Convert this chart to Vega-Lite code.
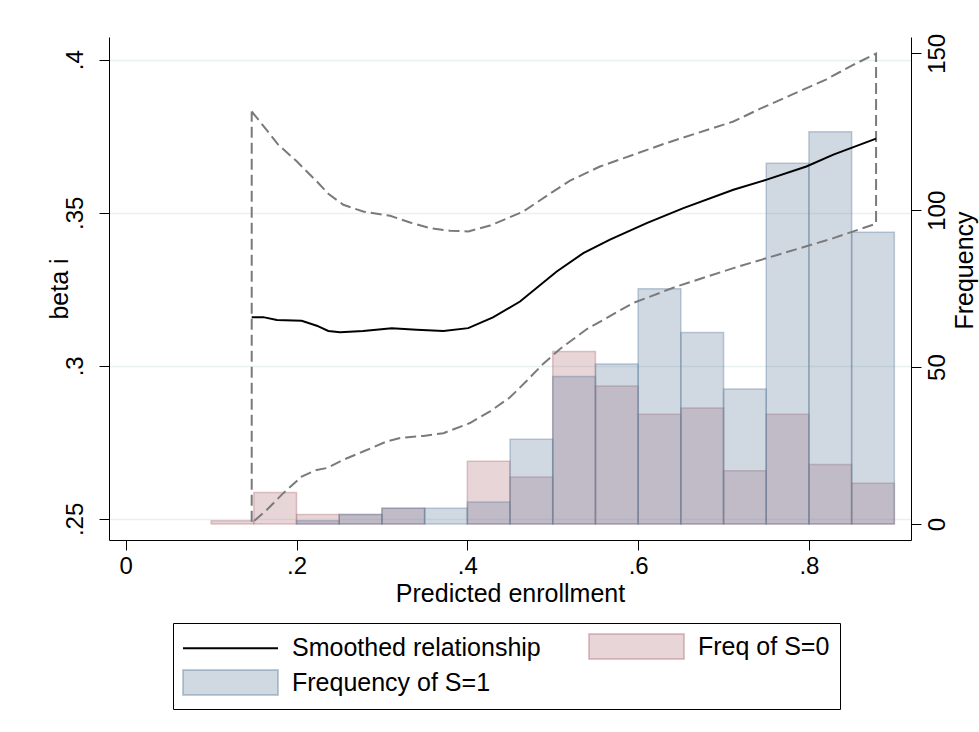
{
  "$schema": "https://vega.github.io/schema/vega-lite/v6.json",
  "width": 802,
  "height": 503,
  "autosize": {"type": "none"},
  "padding": {"left": 109, "top": 37, "right": 68, "bottom": 192},
  "background": "white",
  "config": {
    "view": {"stroke": null},
    "font": "Liberation Sans",
    "axis": {
      "domainColor": "black",
      "domainWidth": 1,
      "tickColor": "black",
      "tickWidth": 1,
      "tickSize": 10,
      "labelFont": "Liberation Sans",
      "labelFontSize": 24,
      "labelColor": "black",
      "labelFlush": false,
      "labelOverlap": false,
      "titleFont": "Liberation Sans",
      "titleFontSize": 25,
      "titleFontWeight": "normal",
      "titleColor": "black"
    }
  },
  "datasets": {
    "bars": [
      {"x0": 0.10, "x1": 0.15, "n": 1, "g": "Freq of S=0"},
      {"x0": 0.15, "x1": 0.20, "n": 10, "g": "Freq of S=0"},
      {"x0": 0.20, "x1": 0.25, "n": 3, "g": "Freq of S=0"},
      {"x0": 0.25, "x1": 0.30, "n": 3, "g": "Freq of S=0"},
      {"x0": 0.30, "x1": 0.35, "n": 5, "g": "Freq of S=0"},
      {"x0": 0.40, "x1": 0.45, "n": 20, "g": "Freq of S=0"},
      {"x0": 0.45, "x1": 0.50, "n": 15, "g": "Freq of S=0"},
      {"x0": 0.50, "x1": 0.55, "n": 55, "g": "Freq of S=0"},
      {"x0": 0.55, "x1": 0.60, "n": 44, "g": "Freq of S=0"},
      {"x0": 0.60, "x1": 0.65, "n": 35, "g": "Freq of S=0"},
      {"x0": 0.65, "x1": 0.70, "n": 37, "g": "Freq of S=0"},
      {"x0": 0.70, "x1": 0.75, "n": 17, "g": "Freq of S=0"},
      {"x0": 0.75, "x1": 0.80, "n": 35, "g": "Freq of S=0"},
      {"x0": 0.80, "x1": 0.85, "n": 19, "g": "Freq of S=0"},
      {"x0": 0.85, "x1": 0.90, "n": 13, "g": "Freq of S=0"},
      {"x0": 0.20, "x1": 0.25, "n": 1, "g": "Frequency of S=1"},
      {"x0": 0.25, "x1": 0.30, "n": 3, "g": "Frequency of S=1"},
      {"x0": 0.30, "x1": 0.35, "n": 5, "g": "Frequency of S=1"},
      {"x0": 0.35, "x1": 0.40, "n": 5, "g": "Frequency of S=1"},
      {"x0": 0.40, "x1": 0.45, "n": 7, "g": "Frequency of S=1"},
      {"x0": 0.45, "x1": 0.50, "n": 27, "g": "Frequency of S=1"},
      {"x0": 0.50, "x1": 0.55, "n": 47, "g": "Frequency of S=1"},
      {"x0": 0.55, "x1": 0.60, "n": 51, "g": "Frequency of S=1"},
      {"x0": 0.60, "x1": 0.65, "n": 75, "g": "Frequency of S=1"},
      {"x0": 0.65, "x1": 0.70, "n": 61, "g": "Frequency of S=1"},
      {"x0": 0.70, "x1": 0.75, "n": 43, "g": "Frequency of S=1"},
      {"x0": 0.75, "x1": 0.80, "n": 115, "g": "Frequency of S=1"},
      {"x0": 0.80, "x1": 0.85, "n": 125, "g": "Frequency of S=1"},
      {"x0": 0.85, "x1": 0.90, "n": 93, "g": "Frequency of S=1"}
    ],
    "ci": [
      {"o": 1, "x": 0.1475, "y": 0.3831},
      {"o": 2, "x": 0.1787, "y": 0.3722},
      {"o": 3, "x": 0.2002, "y": 0.3668},
      {"o": 4, "x": 0.2255, "y": 0.3597},
      {"o": 5, "x": 0.2372, "y": 0.3562},
      {"o": 6, "x": 0.2548, "y": 0.3526},
      {"o": 7, "x": 0.2780, "y": 0.3504},
      {"o": 8, "x": 0.3095, "y": 0.3490},
      {"o": 9, "x": 0.3330, "y": 0.3468},
      {"o": 10, "x": 0.3563, "y": 0.3450},
      {"o": 11, "x": 0.3797, "y": 0.3441},
      {"o": 12, "x": 0.4012, "y": 0.3439},
      {"o": 13, "x": 0.4266, "y": 0.3458},
      {"o": 14, "x": 0.4656, "y": 0.3504},
      {"o": 15, "x": 0.4965, "y": 0.3562},
      {"o": 16, "x": 0.5203, "y": 0.3605},
      {"o": 17, "x": 0.5553, "y": 0.3651},
      {"o": 18, "x": 0.6335, "y": 0.3728},
      {"o": 19, "x": 0.7115, "y": 0.3798},
      {"o": 20, "x": 0.7430, "y": 0.3840},
      {"o": 21, "x": 0.7820, "y": 0.3888},
      {"o": 22, "x": 0.8199, "y": 0.3935},
      {"o": 23, "x": 0.8512, "y": 0.3982},
      {"o": 24, "x": 0.8786, "y": 0.4020},
      {"o": 25, "x": 0.8786, "y": 0.3464},
      {"o": 26, "x": 0.8286, "y": 0.3417},
      {"o": 27, "x": 0.7700, "y": 0.3368},
      {"o": 28, "x": 0.7115, "y": 0.3319},
      {"o": 29, "x": 0.6450, "y": 0.3259},
      {"o": 30, "x": 0.5940, "y": 0.3205},
      {"o": 31, "x": 0.5400, "y": 0.3120},
      {"o": 32, "x": 0.5085, "y": 0.3055},
      {"o": 33, "x": 0.4890, "y": 0.3007},
      {"o": 34, "x": 0.4696, "y": 0.2951},
      {"o": 35, "x": 0.4500, "y": 0.2897},
      {"o": 36, "x": 0.4266, "y": 0.2851},
      {"o": 37, "x": 0.4030, "y": 0.2813},
      {"o": 38, "x": 0.3720, "y": 0.2780},
      {"o": 39, "x": 0.3485, "y": 0.2771},
      {"o": 40, "x": 0.3212, "y": 0.2764},
      {"o": 41, "x": 0.3056, "y": 0.2753},
      {"o": 42, "x": 0.2780, "y": 0.2720},
      {"o": 43, "x": 0.2548, "y": 0.2693},
      {"o": 44, "x": 0.2354, "y": 0.2666},
      {"o": 45, "x": 0.2237, "y": 0.2660},
      {"o": 46, "x": 0.2060, "y": 0.2638},
      {"o": 47, "x": 0.1845, "y": 0.2584},
      {"o": 48, "x": 0.1650, "y": 0.2529},
      {"o": 49, "x": 0.1475, "y": 0.2486},
      {"o": 50, "x": 0.1475, "y": 0.3831}
    ],
    "smooth": [
      {"x": 0.1475, "y": 0.3159},
      {"x": 0.1610, "y": 0.3159},
      {"x": 0.1770, "y": 0.3150},
      {"x": 0.2060, "y": 0.3147},
      {"x": 0.2237, "y": 0.3131},
      {"x": 0.2372, "y": 0.3114},
      {"x": 0.2510, "y": 0.3110},
      {"x": 0.2780, "y": 0.3114},
      {"x": 0.3115, "y": 0.3123},
      {"x": 0.3407, "y": 0.3118},
      {"x": 0.3720, "y": 0.3114},
      {"x": 0.4010, "y": 0.3123},
      {"x": 0.4300, "y": 0.3158},
      {"x": 0.4617, "y": 0.3210},
      {"x": 0.5047, "y": 0.3308},
      {"x": 0.5358, "y": 0.3368},
      {"x": 0.5670, "y": 0.3412},
      {"x": 0.6100, "y": 0.3466},
      {"x": 0.6530, "y": 0.3515},
      {"x": 0.7115, "y": 0.3575},
      {"x": 0.7506, "y": 0.3608},
      {"x": 0.7970, "y": 0.3651},
      {"x": 0.8286, "y": 0.3690},
      {"x": 0.8786, "y": 0.3742}
    ]
  },
  "layer": [
    {
      "data": {"name": "bars"},
      "mark": {"type": "bar", "fillOpacity": 0.3, "strokeOpacity": 0.4, "strokeWidth": 1.5},
      "encoding": {
        "x": {
          "field": "x0",
          "type": "quantitative",
          "scale": {"domain": [-0.0196, 0.9195], "nice": false, "zero": false},
          "axis": {
            "values": [0, 0.2, 0.4, 0.6, 0.8],
            "labelExpr": "datum.value == 0 ? '0' : slice(format(datum.value, '.1f'), 1)",
            "title": "Predicted enrollment",
            "grid": false,
            "labelPadding": 4,
            "titleX": 401,
            "titleY": 61,
            "titleAlign": "center",
            "titleBaseline": "alphabetic"
          }
        },
        "x2": {"field": "x1"},
        "y": {
          "field": "n",
          "type": "quantitative",
          "scale": {"domain": [-5.1, 155.2], "nice": false, "zero": false},
          "axis": {
            "orient": "right",
            "values": [0, 50, 100, 150],
            "title": "Frequency",
            "grid": false,
            "labelAngle": -90,
            "labelAlign": "center",
            "labelBaseline": "top",
            "labelPadding": 4.5,
            "titleAngle": -90,
            "titleAlign": "center",
            "titleBaseline": "alphabetic",
            "titleX": 61.5,
            "titleY": 233
          }
        },
        "y2": {"datum": 0},
        "color": {
          "field": "g",
          "type": "nominal",
          "scale": {
            "domain": ["Smoothed relationship", "Freq of S=0", "Frequency of S=1"],
            "range": ["#000000", "#b2737a", "#62809e"]
          },
          "legend": {
            "title": null,
            "orient": "none",
            "legendX": 64,
            "legendY": 586,
            "direction": "horizontal",
            "columns": 2,
            "padding": 10,
            "strokeColor": "black",
            "fillColor": "white",
            "columnPadding": 44,
            "rowPadding": 3,
            "symbolSize": 625,
            "symbolStrokeWidth": 2,
            "symbolOffset": 34,
            "labelOffset": 48,
            "labelFont": "Liberation Sans",
            "labelFontSize": 25,
            "labelColor": "black",
            "labelLimit": 500,
            "encode": {
              "symbols": {
                "update": {
                  "shape": {"signal": "datum.value === 'Smoothed relationship' ? 'M-3.8,0H3.8' : 'M-3.8,-1H3.8V1H-3.8Z'"},
                  "fill": {"signal": "datum.value === 'Freq of S=0' ? '#b2737a' : datum.value === 'Frequency of S=1' ? '#62809e' : 'transparent'"},
                  "stroke": {"signal": "datum.value === 'Freq of S=0' ? '#b2737a' : datum.value === 'Frequency of S=1' ? '#62809e' : '#000000'"},
                  "fillOpacity": {"value": 0.3},
                  "strokeOpacity": {"signal": "datum.value === 'Smoothed relationship' ? 1 : 0.4"},
                  "opacity": {"value": 1}
                }
              }
            }
          }
        },
        "stroke": {
          "field": "g",
          "type": "nominal",
          "scale": {"domain": ["Freq of S=0", "Frequency of S=1"], "range": ["#b2737a", "#62809e"]},
          "legend": null
        }
      }
    },
    {
      "layer": [
        {
          "data": {"name": "ci"},
          "mark": {"type": "line", "color": "#7a7a7a", "strokeWidth": 2, "strokeDash": [11, 5]},
          "encoding": {
            "x": {"field": "x", "type": "quantitative"},
            "y": {
              "field": "y",
              "type": "quantitative",
              "scale": {"domain": [0.2431, 0.4074], "nice": false, "zero": false},
              "axis": {
                "orient": "left",
                "values": [0.25, 0.3, 0.35, 0.4],
                "labelExpr": "slice(format(datum.value, '.2~f'), 1)",
                "title": "beta i",
                "grid": true,
                "gridColor": "#e9f0f2",
                "gridWidth": 1.5,
                "labelAngle": -90,
                "labelAlign": "center",
                "labelBaseline": "alphabetic",
                "labelPadding": 17,
                "titleAngle": -90,
                "titleAlign": "center",
                "titleBaseline": "alphabetic",
                "titleX": -41.5,
                "titleY": 251.5
              }
            },
            "order": {"field": "o", "type": "quantitative"}
          }
        },
        {
          "data": {"name": "smooth"},
          "mark": {"type": "line", "strokeWidth": 2},
          "encoding": {
            "x": {"field": "x", "type": "quantitative"},
            "y": {"field": "y", "type": "quantitative"},
            "color": {"datum": "Smoothed relationship"}
          }
        }
      ]
    }
  ],
  "resolve": {"scale": {"y": "independent"}, "axis": {"y": "independent"}}
}
